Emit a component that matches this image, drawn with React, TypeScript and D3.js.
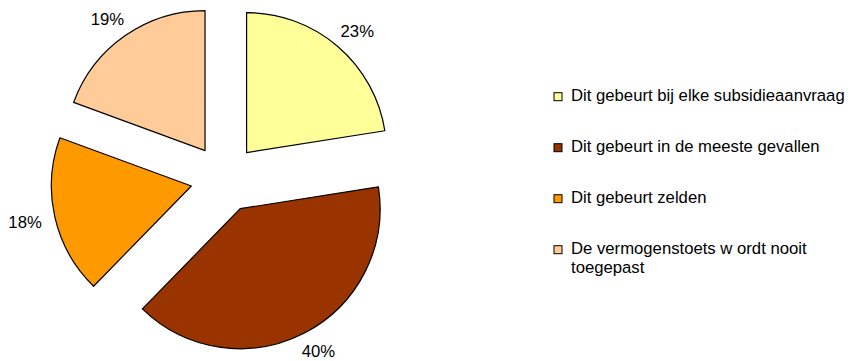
import React from "react";
import * as d3 from "d3";

const categories = [
  "Dit gebeurt bij elke subsidieaanvraag",
  "Dit gebeurt in de meeste gevallen",
  "Dit gebeurt zelden",
  "De vermogenstoets w ordt nooit toegepast",
];
const legendLines = [
  ["Dit gebeurt bij elke subsidieaanvraag"],
  ["Dit gebeurt in de meeste gevallen"],
  ["Dit gebeurt zelden"],
  ["De vermogenstoets w ordt nooit", "toegepast"],
];
const values = [22.5, 39.8, 18.3, 19.4];
const colors = ["#FFFF99", "#993300", "#FF9900", "#FFCC99"];

const W = 851;
const H = 361;
const CX = 224.5;
const CY = 178.5;
const R = 140;
const EXPLODE = 34;
const LABEL_GAP = 14;
const LABEL_HW = 16.5;
const LABEL_HH = 6.5;
const FONT = "'Liberation Sans', Arial, sans-serif";
const FS = 16.7;

export default function App() {
  const total = d3.sum(values);
  const pie = d3
    .pie<number>()
    .sort(null)
    .value((d) => d)
    .startAngle(0)
    .endAngle(2 * Math.PI);
  const arcs = pie(values);
  const arc = d3.arc<d3.PieArcDatum<number>>().innerRadius(0).outerRadius(R);

  const legendX = 554;
  const legendTextX = 571;
  const legendBaseline0 = 100.7;
  const legendStep = 51;
  const lineH = 19;

  return (
    <svg
      width={W}
      height={H}
      style={{ position: "fixed", left: 0, top: 0, background: "#fff" }}
      fontFamily={FONT}
    >
      <rect x={0} y={0} width={W} height={H} fill="#fff" />
      {arcs.map((a, i) => {
        const mid = (a.startAngle + a.endAngle) / 2;
        const dx = Math.sin(mid);
        const dy = -Math.cos(mid);
        const ox = CX + dx * EXPLODE;
        const oy = CY + dy * EXPLODE;
        const lx = ox + dx * (R + LABEL_GAP + LABEL_HW);
        const ly = oy + dy * (R + LABEL_GAP + LABEL_HH);
        const pct = Math.round((values[i] / total) * 100);
        return (
          <g key={categories[i]}>
            <path
              d={arc(a) || ""}
              transform={`translate(${ox},${oy})`}
              fill={colors[i]}
              stroke="#000"
              strokeWidth={1.2}
              strokeLinejoin="round"
            />
            <text
              x={lx}
              y={ly}
              dy="0.36em"
              textAnchor="middle"
              fontSize={FS}
              fill="#000"
            >
              {pct}%
            </text>
          </g>
        );
      })}
      {legendLines.map((lines, i) => {
        const base = legendBaseline0 + i * legendStep;
        return (
          <g key={"lg" + i}>
            <rect
              x={legendX}
              y={base - 8}
              width={8}
              height={8}
              fill={colors[i]}
              stroke="#000"
              strokeWidth={1}
            />
            {lines.map((t, j) => (
              <text
                key={j}
                x={legendTextX}
                y={base + j * lineH}
                fontSize={FS}
                fill="#000"
              >
                {t}
              </text>
            ))}
          </g>
        );
      })}
    </svg>
  );
}
